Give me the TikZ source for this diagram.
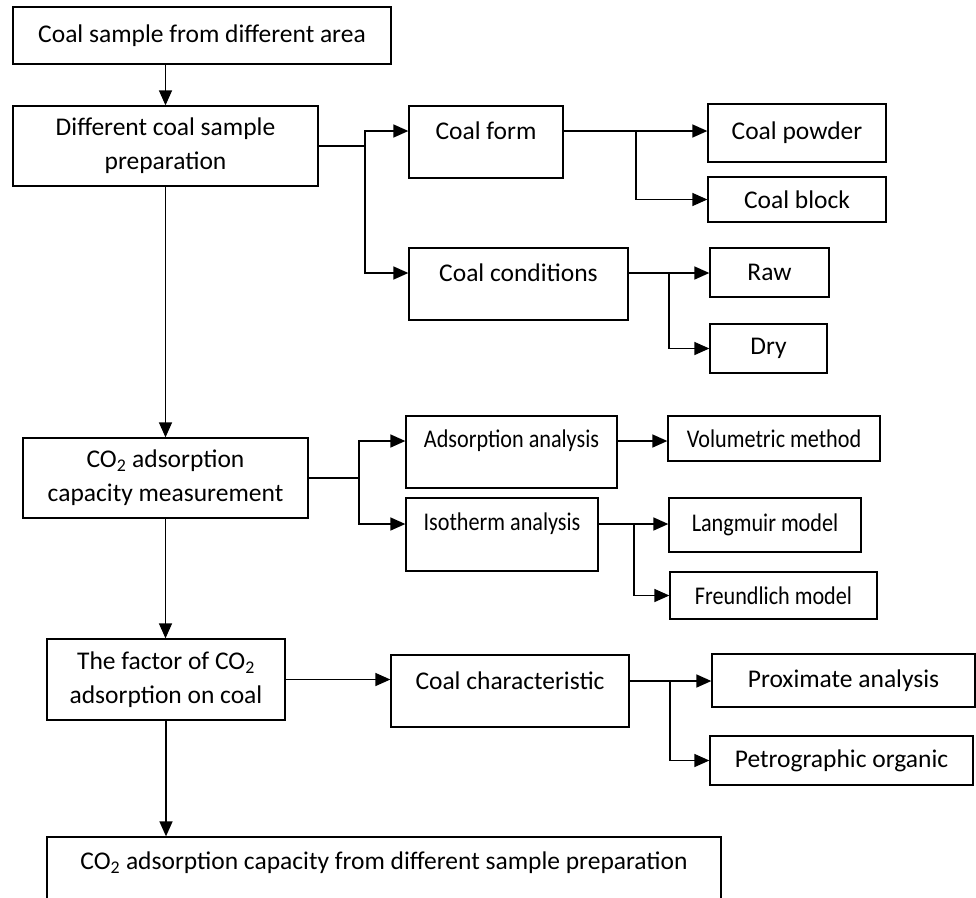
\documentclass[tikz,border=0pt]{standalone}
\usepackage{fontspec}
\setmainfont{Carlito}
\newfontfamily\narrowfont[FakeStretch=0.87]{Carlito}
\usetikzlibrary{arrows.meta}
\begin{document}
\begin{tikzpicture}[x=1pt,y=-1pt,
  box/.style={draw=black,line width=1.3pt,rectangle,inner sep=0pt,align=center,font=\fontsize{25.5}{34}\selectfont},
  txt/.style={inner sep=0pt,align=center,font=\fontsize{25.5}{34}\selectfont},
  small/.style={font=\narrowfont\fontsize{25.5}{34}\selectfont},
  conn/.style={line width=1.5pt},
  arr/.style={line width=1.5pt,-{Triangle[length=15pt,width=13pt]}}]
\useasboundingbox (0,0) rectangle (976,897);
\clip (0,0) rectangle (976,897);
% main column
\node[box,minimum width=378pt,minimum height=57pt] (b1) at (202,35.5) {Coal sample from different area};
\node[box,minimum width=305pt,minimum height=80pt] (b2) at (165.5,146) {Different coal sample\\preparation};
\node[box,minimum width=285pt,minimum height=80pt] (b3) at (165.5,478) {CO\textsubscript{2} adsorption\\capacity measurement};
\node[box,minimum width=238pt,minimum height=81pt] (b4) at (166,679.5) {The factor of CO\textsubscript{2}\\adsorption on coal};
\node[box,minimum width=674pt,minimum height=80pt] (b5) at (384,877) {};
\node[txt] (b5t) at (384,863) {CO\textsubscript{2} adsorption capacity from different sample preparation};
% second column
\node[box,minimum width=154pt,minimum height=72pt] (cf) at (486,142) {};
\node[txt] (cft) at (486,131) {Coal form};
\node[box,minimum width=219pt,minimum height=72pt] (cc) at (518.5,284) {};
\node[txt] (cct) at (518.5,273) {Coal conditions};
\node[box,minimum width=211pt,minimum height=72pt] (aa) at (511.5,452) {};
\node[txt,small] (aat) at (511.5,441) {Adsorption analysis};
\node[box,minimum width=192pt,minimum height=73pt] (ia) at (502,534.5) {};
\node[txt,small] (iat) at (502,524) {Isotherm analysis};
\node[box,minimum width=238pt,minimum height=72pt] (ch) at (510,691) {};
\node[txt] (cht) at (510,681) {Coal characteristic};
% third column
\node[box,minimum width=178pt,minimum height=58pt] (cp) at (797,133) {Coal powder};
\node[box,minimum width=178pt,minimum height=45pt] (cb) at (797,199.5) {Coal block};
\node[box,minimum width=119pt,minimum height=49pt] (raw) at (769.5,272.5) {Raw};
\node[box,minimum width=117pt,minimum height=49pt] (dry) at (768.5,348.5) {Dry};
\node[box,small,minimum width=212pt,minimum height=45pt] (vm) at (774,438.5) {Volumetric method};
\node[box,small,minimum width=192pt,minimum height=54pt] (lm) at (765,525) {Langmuir model};
\node[box,small,minimum width=207pt,minimum height=47pt] (fm) at (773.5,595.5) {Freundlich model};
\node[box,minimum width=263pt,minimum height=53pt] (pa) at (843.5,680.5) {Proximate analysis};
\node[box,minimum width=263pt,minimum height=49pt] (po) at (841.5,760.5) {Petrographic organic};
% junction x positions
\coordinate (j1) at (365,0);
\coordinate (j2) at (636,0);
\coordinate (j3) at (669,0);
\coordinate (j4) at (359,0);
\coordinate (j5) at (634,0);
\coordinate (j6) at (670,0);
% vertical main arrows
\draw[arr] (b1.south -| b2.north) -- (b2.north);
\draw[arr] (b2.south) -- (b3.north);
\draw[arr] (b3.south) -- (b3.south |- b4.north);
\draw[arr] (b4.south) -- (b4.south |- b5.north);
% b2 branches
\draw[conn] (b2.east) -- (b2.east -| j1);
\draw[arr] (b2.east -| j1) |- (cf.west |- cft);
\draw[arr] (b2.east -| j1) |- (cc.west |- cct);
% coal form
\draw[arr] (cf.east |- cft) -- (cp.west |- cft);
\draw[arr] (j2 |- cft) |- (cb.west);
% coal conditions
\draw[arr] (cc.east |- cct) -- (raw.west |- cct);
\draw[arr] (j3 |- cct) |- (dry.west);
% b3 branches
\draw[conn] (b3.east) -- (b3.east -| j4);
\draw[arr] (b3.east -| j4) |- (aa.west |- aat);
\draw[arr] (b3.east -| j4) |- (ia.west |- iat);
\draw[arr] (aa.east |- aat) -- (vm.west |- aat);
\draw[arr] (ia.east |- iat) -- (lm.west |- iat);
\draw[arr] (j5 |- iat) |- (fm.west);
% b4 branches
\draw[arr] (b4.east) -- (b4.east -| ch.west);
\draw[arr] (ch.east |- cht) -- (pa.west |- cht);
\draw[arr] (j6 |- cht) |- (po.west);
\end{tikzpicture}
\end{document}
